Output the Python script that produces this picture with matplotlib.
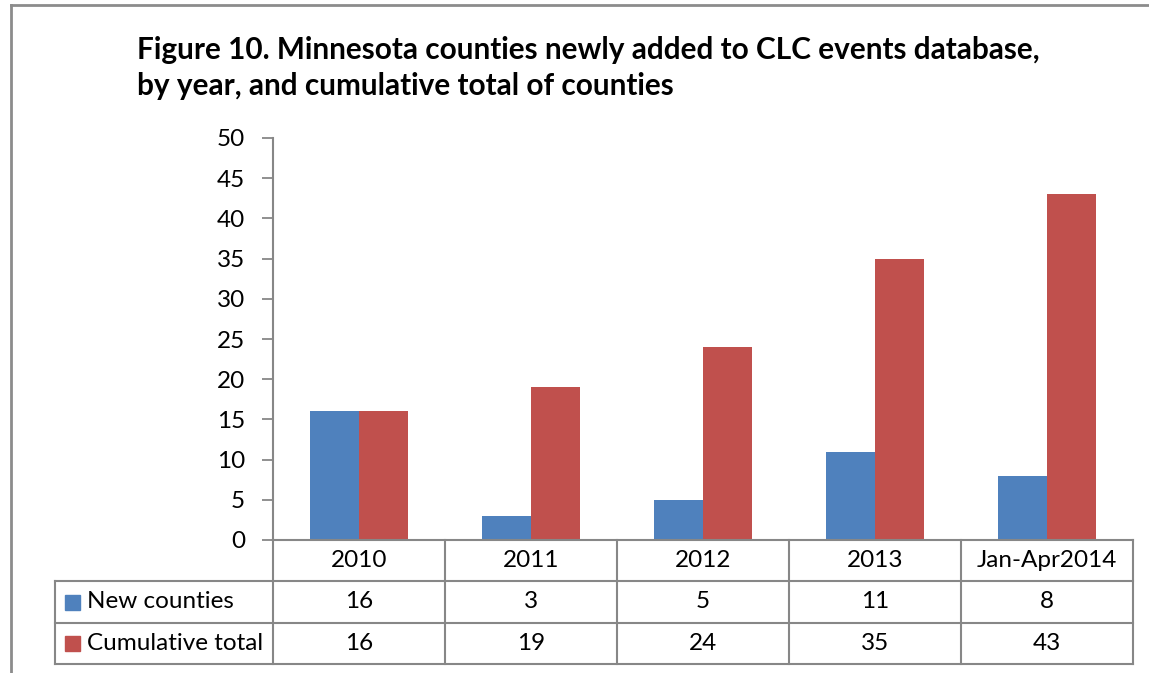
import matplotlib
matplotlib.use("Agg")
import matplotlib.pyplot as plt
import numpy as np
from matplotlib.transforms import blended_transform_factory
from matplotlib.lines import Line2D
from matplotlib.patches import Rectangle

categories = ["2010", "2011", "2012", "2013", "Jan-Apr2014"]
new_counties = [16, 3, 5, 11, 8]
cumulative_total = [16, 19, 24, 35, 43]
series_names = ["New counties", "Cumulative total"]
yticks = [0, 5, 10, 15, 20, 25, 30, 35, 40, 45, 50]
title_lines = ["Figure 10. Minnesota counties newly added to CLC events database,",
               "by year, and cumulative total of counties"]

BLUE = "#4F81BD"
RED = "#C0504D"
GRID = "#878787"
FONT = "Lato"
FS = 17.5

W, H = 1149, 673
fig = plt.figure(figsize=(W / 100, H / 100), dpi=100)

def fx(px):
    return px / W

def fy(py):
    return 1 - py / H

ax_left, ax_right, ax_top, ax_bot = 273, 1133, 138, 540
ax = fig.add_axes([fx(ax_left), fy(ax_bot), fx(ax_right - ax_left), (ax_bot - ax_top) / H])

x = np.arange(len(categories))
bw = 0.285
ax.bar(x - bw / 2, new_counties, width=bw, color=BLUE, edgecolor="none")
ax.bar(x + bw / 2, cumulative_total, width=bw, color=RED, edgecolor="none")

ax.set_xlim(-0.5, len(categories) - 0.5)
ax.set_ylim(0, 50)
ax.set_yticks(yticks)
ax.set_yticklabels([str(t) for t in yticks], fontsize=FS, family=FONT)
ax.tick_params(axis="y", length=8, width=1.3, color=GRID, pad=12)
ax.set_xticks([])
for s in ["top", "right"]:
    ax.spines[s].set_visible(False)
for s in ["left", "bottom"]:
    ax.spines[s].set_color(GRID)
    ax.spines[s].set_linewidth(1.5)

# Title (two lines)
for yy, line in zip([50, 86], title_lines):
    fig.text(fx(137), fy(yy), line, fontsize=21.4, fontweight="bold", family=FONT,
             ha="left", va="center")

# Data table below the axis
tr = blended_transform_factory(ax.transData, fig.transFigure)
row_edges = [540, 581, 623, 664]
leg_left = 55
xmin, xmax = -0.5, len(categories) - 0.5

def fline(xs, ys):
    fig.add_artist(Line2D(xs, ys, transform=fig.transFigure, color=GRID, lw=1.5))

for r in row_edges[1:]:
    fline([fx(leg_left), fx(ax_right)], [fy(r), fy(r)])
fline([fx(leg_left), fx(leg_left)], [fy(row_edges[1]), fy(row_edges[3])])
for i in range(len(categories) + 1):
    xd = xmin + i
    fig.add_artist(Line2D([xd, xd], [fy(row_edges[0]), fy(row_edges[3])],
                          transform=tr, color=GRID, lw=1.5))

for i, c in enumerate(categories):
    fig.text(i, fy((row_edges[0] + row_edges[1]) / 2), c, transform=tr,
             ha="center", va="center", fontsize=FS, family=FONT)

for k, (name, vals, col) in enumerate([(series_names[0], new_counties, BLUE),
                                        (series_names[1], cumulative_total, RED)]):
    yc = (row_edges[k + 1] + row_edges[k + 2]) / 2
    fig.add_artist(Rectangle((fx(65), fy(yc + 7.5)), fx(15), 15 / H,
                             transform=fig.transFigure, color=col))
    fig.text(fx(87), fy(yc), name, ha="left", va="center", fontsize=FS, family=FONT)
    for i, v in enumerate(vals):
        fig.text(i, fy(yc), str(v), transform=tr, ha="center", va="center",
                 fontsize=FS, family=FONT)

# outer chart border (partially visible)
fig.add_artist(Line2D([fx(11), fx(11)], [0, fy(5)], transform=fig.transFigure, color="#8c8c8c", lw=2))
fig.add_artist(Line2D([fx(11), 1], [fy(5), fy(5)], transform=fig.transFigure, color="#8c8c8c", lw=2))

fig.savefig("out.png", dpi=100)
